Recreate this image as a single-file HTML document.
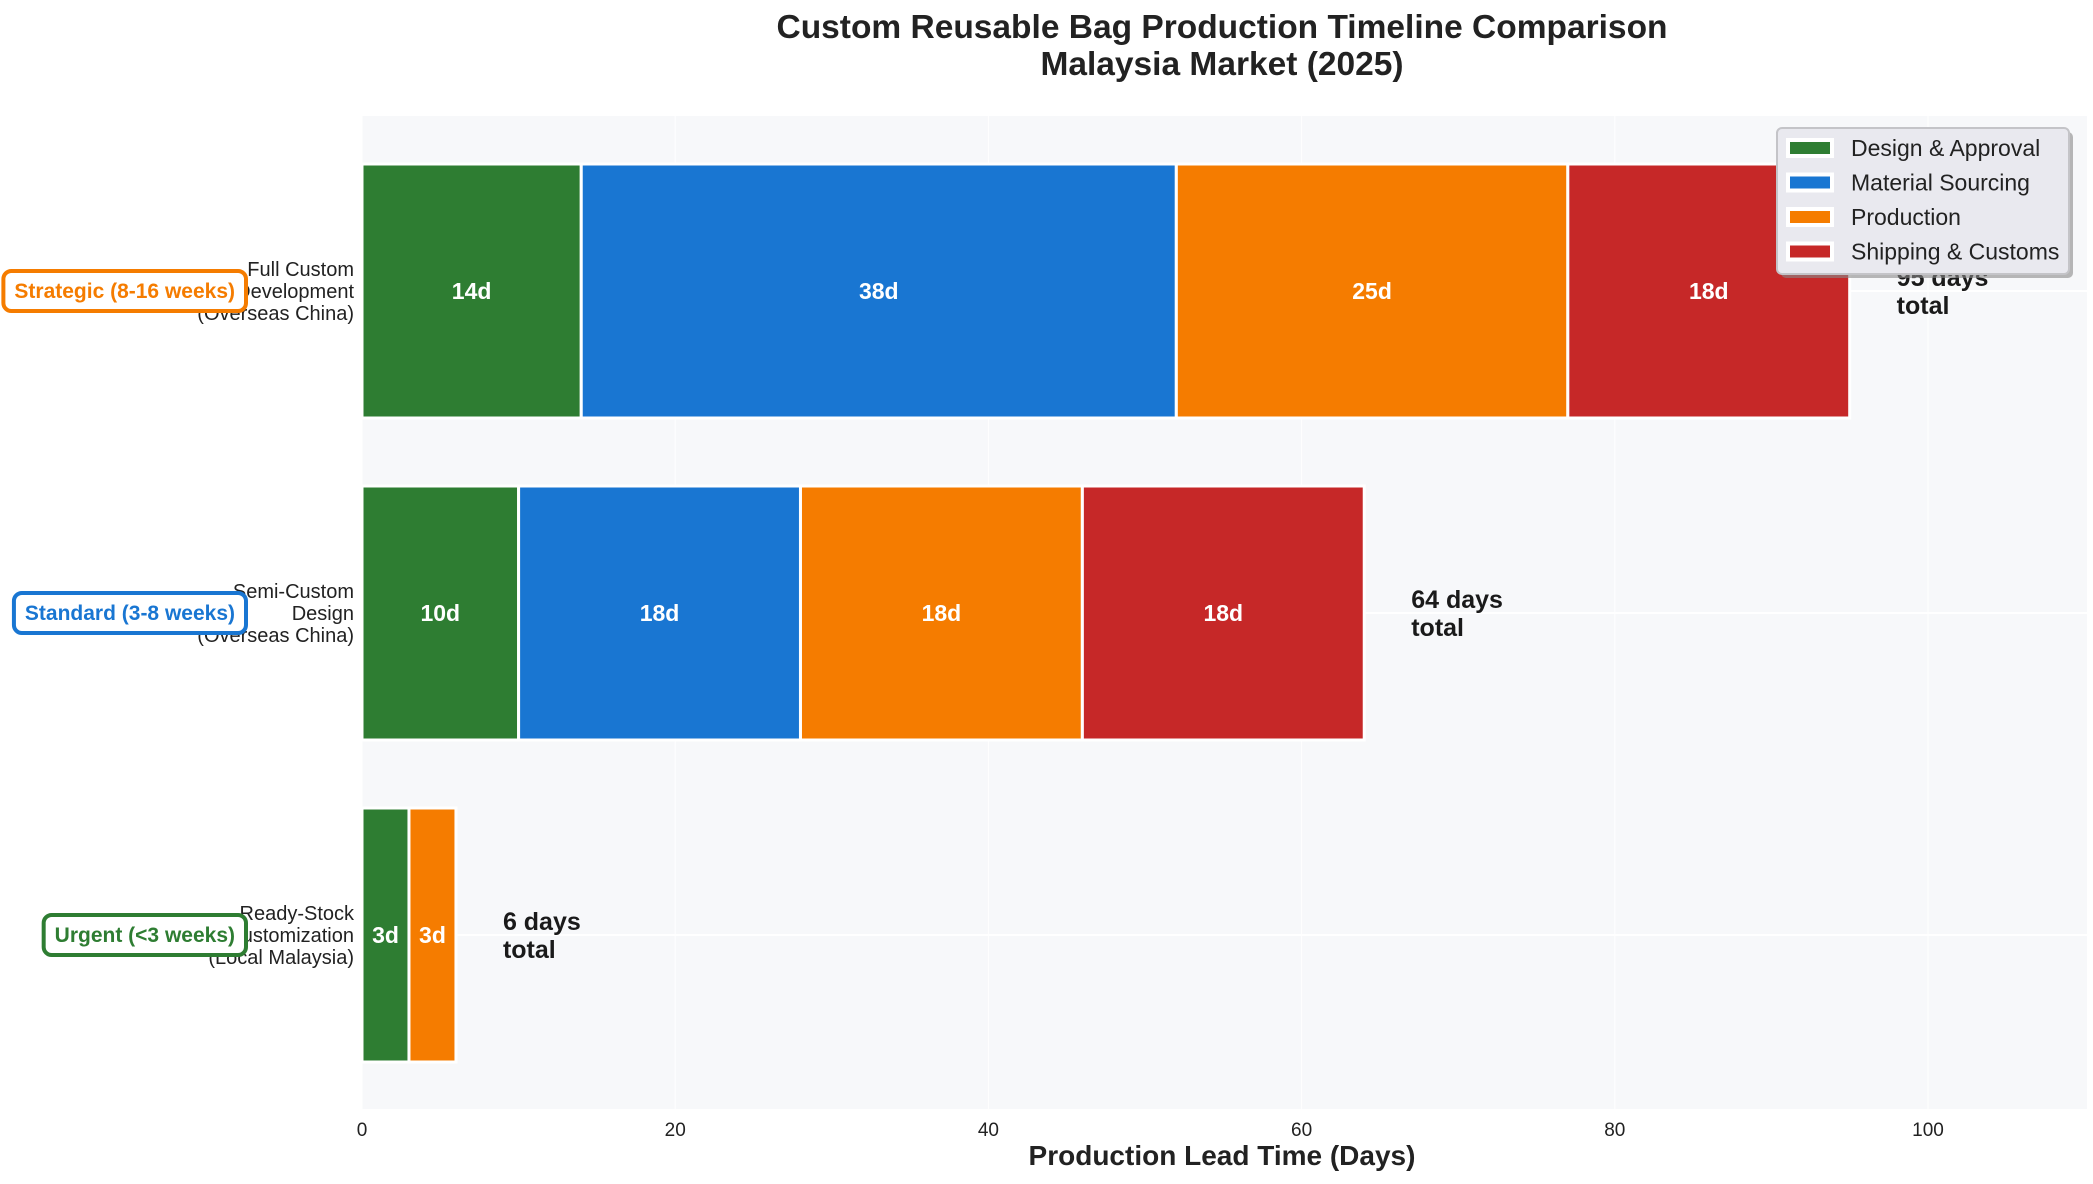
<!DOCTYPE html>
<html><head><meta charset="utf-8"><style>
html,body{margin:0;padding:0;background:#fff;}
svg{display:block;font-family:"Liberation Sans",sans-serif;}
</style></head><body>
<svg id="chart" width="2093" height="1184" viewBox="0 0 2093 1184">
<text x="1222" y="38" text-anchor="middle" font-size="33.5" font-weight="bold" fill="#222">Custom Reusable Bag Production Timeline Comparison</text>
<text x="1222" y="75" text-anchor="middle" font-size="33.5" font-weight="bold" fill="#222">Malaysia Market (2025)</text>
<rect x="362" y="116" width="1725" height="993" fill="#f7f8fa"/>
<g id="grid"></g>
<g id="bars"></g>
<g id="labels"></g>
<g id="xaxis"></g>
<text x="1222" y="1165" text-anchor="middle" font-size="28" font-weight="bold" fill="#222">Production Lead Time (Days)</text>
<g>
<rect x="1781" y="132" width="292" height="146" rx="5" fill="#888" opacity="0.6"/>
<rect x="1777" y="128" width="292" height="146" rx="5" fill="#e9e9ef" stroke="#c4c4c8" stroke-width="2"/>
<g id="legend-items"></g>
</g>
</svg>
<script>
const categories = ["Full Custom\nDevelopment\n(Overseas China)", "Semi-Custom\nDesign\n(Overseas China)", "Ready-Stock\nCustomization\n(Local Malaysia)"];
const phases = ["Design & Approval", "Material Sourcing", "Production", "Shipping & Customs"];
const designDays = [14, 10, 3];
const sourcingDays = [38, 18, 0];
const productionDays = [25, 18, 3];
const shippingDays = [18, 18, 0];
const badges = ["Strategic (8-16 weeks)", "Standard (3-8 weeks)", "Urgent (<3 weeks)"];
const xTicks = [0, 20, 40, 60, 80, 100];

const colors = ["#2e7d32", "#1976d2", "#f57c00", "#c62828"];
const badgeColors = ["#f57c00", "#1976d2", "#2e7d32"];
const NS = "http://www.w3.org/2000/svg";
const X0 = 362, XSCALE = 15.66;
const xs = v => X0 + v * XSCALE;
const ys = i => 291 + i * 322;
const BH = 254;
function mk(tag, attrs, parent, text) {
  const e = document.createElementNS(NS, tag);
  for (const k in attrs) e.setAttribute(k, attrs[k]);
  if (text !== undefined) e.textContent = text;
  parent.appendChild(e);
  return e;
}
const grid = document.getElementById('grid');
const bars = document.getElementById('bars');
const labels = document.getElementById('labels');
const xaxis = document.getElementById('xaxis');
const series = [designDays, sourcingDays, productionDays, shippingDays];

xTicks.forEach(t => {
  const g = mk('line', {x1: xs(t), x2: xs(t), y1: 116, y2: 1109, stroke: '#ffffff', 'stroke-width': 1}, grid);
  
  
  const tl = mk('text', {x: xs(t), y: 1136, 'text-anchor': 'middle', 'font-size': 19, fill: '#222'}, xaxis, String(t));
  
  
});

categories.forEach((cat, i) => {
  const cy = ys(i);
  const gl = mk('line', {x1: 362, x2: 2087, y1: cy, y2: cy, stroke: '#ffffff', 'stroke-width': 2}, grid);
  
  
  let start = 0;
  series.forEach((s, p) => {
    const v = s[i];
    if (v <= 0) return;
    const r = mk('rect', {x: xs(start), y: cy - BH / 2, width: v * XSCALE, height: BH, fill: colors[p], stroke: '#fff', 'stroke-width': 3}, bars);
    
    
    const t = mk('text', {x: xs(start + v / 2), y: cy + 8, 'text-anchor': 'middle', 'font-size': 23, 'font-weight': 'bold', fill: '#fff'}, labels, v + 'd');
    
    
    start += v;
  });
  const total = start;
  const tt = mk('text', {x: xs(total + 3), y: cy - 5, 'font-size': 25, 'font-weight': 'bold', fill: '#1a1a1a'}, labels);
  
  
  mk('tspan', {x: xs(total + 3)}, tt, total + ' days');
  mk('tspan', {x: xs(total + 3), dy: 28}, tt, 'total');
  const lines = cat.split('\n');
  const cl = mk('text', {'text-anchor': 'end', 'font-size': 20, fill: '#222'}, labels);
  
  
  lines.forEach((ln, k) => mk('tspan', {x: 354, y: cy - 15 + k * 22}, cl, ln));
  const br = mk('rect', {x: 0, y: cy - 20, width: 10, height: 40, rx: 8, fill: '#fff', stroke: badgeColors[i], 'stroke-width': 4}, labels);
  
  
  const bt = mk('text', {x: 235, y: cy + 7, 'text-anchor': 'end', 'font-size': 21, 'font-weight': 'bold', fill: badgeColors[i]}, labels, badges[i]);
  
  
  const w = bt.getComputedTextLength() + 22;
  br.setAttribute('x', 246 - w);
  br.setAttribute('width', w);
});

const li = document.getElementById('legend-items');
phases.forEach((ph, p) => {
  const y = 148 + p * 34.5;
  const bg = mk('rect', {x: 1786, y: y - 10, width: 48, height: 20, fill: '#fff'}, li);
  
  
  const sw = mk('rect', {x: 1790, y: y - 6, width: 40, height: 12, fill: colors[p]}, li);
  
  
  const lt = mk('text', {x: 1851, y: y + 8, 'font-size': 23, fill: '#222'}, li, ph);
  
  
});
</script>
</body></html>
